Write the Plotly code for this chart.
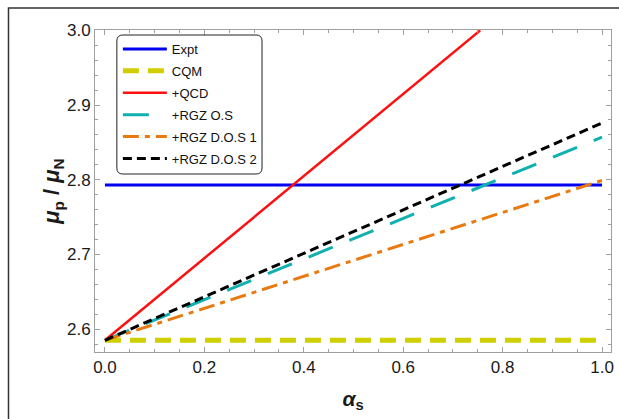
import plotly.graph_objects as go

# Data
alpha_s = [0.0, 1.0]
expt = [2.793, 2.793]
cqm = [2.585, 2.585]
qcd_x = [0.0, 0.755]
qcd = [2.585, 3.0]
rgz_os = [2.585, 2.857]
rgz_dos1 = [2.585, 2.799]
rgz_dos2 = [2.585, 2.876]

W, H = 619, 419
L, R, T, B = 95, 5, 30, 67
pw, ph = W - L - R, H - T - B

def px(x):
    return (x - L) / pw

def py(y):
    return (H - B - y) / ph

fig = go.Figure()
fig.add_trace(go.Scatter(x=alpha_s, y=expt, mode="lines", name="Expt",
                         line=dict(color="#0000f0", width=3), legendgroup="a"))
fig.add_trace(go.Scatter(x=alpha_s, y=cqm, mode="lines", name="CQM",
                         line=dict(color="#cfcf00", width=5, dash="16px,9px"), legendgroup="b"))
fig.add_trace(go.Scatter(x=qcd_x, y=qcd, mode="lines", name="+QCD",
                         line=dict(color="#ff1010", width=2.5), legendgroup="c"))
fig.add_trace(go.Scatter(x=alpha_s, y=rgz_os, mode="lines", name="+RGZ O.S",
                         line=dict(color="#10b0b0", width=3, dash="26px,18px"), legendgroup="d"))
fig.add_trace(go.Scatter(x=alpha_s, y=rgz_dos1, mode="lines", name="+RGZ D.O.S 1",
                         line=dict(color="#e87a10", width=3, dash="16px,6px,5px,6px"), legendgroup="e"))
fig.add_trace(go.Scatter(x=alpha_s, y=rgz_dos2, mode="lines", name="+RGZ D.O.S 2",
                         line=dict(color="#000000", width=3, dash="9px,5px"), legendgroup="f"))

axis_common = dict(
    showgrid=False, zeroline=False, showline=True, linecolor="#a0a0a0", linewidth=1,
    mirror="allticks", ticks="inside", ticklen=5, tickcolor="#a0a0a0", tickwidth=1,
    tickfont=dict(family="Liberation Sans, Arial", size=17, color="#1a1a1a"),
)

fig.update_xaxes(range=[-0.02, 1.018], tickvals=[0, 0.2, 0.4, 0.6, 0.8, 1.0],
                 ticktext=["0.0", "0.2", "0.4", "0.6", "0.8", "1.0"],
                 minor=dict(dtick=0.05, ticks="inside", ticklen=3, tickcolor="#a0a0a0"),
                 title=dict(text="<b><i>α</i><sub>s</sub></b>", standoff=14,
                            font=dict(family="Liberation Sans, Arial", size=21, color="#1a1a1a")),
                 **axis_common)
fig.update_yaxes(range=[2.5693, 3.0005], tickvals=[2.6, 2.7, 2.8, 2.9, 3.0],
                 ticktext=["2.6", "2.7", "2.8", "2.9", "3.0"],
                 minor=dict(dtick=0.02, ticks="inside", ticklen=3, tickcolor="#a0a0a0"),
                 title=dict(text="<b><i>μ</i><sub>p</sub> / <i>μ</i><sub>N</sub></b>", standoff=0,
                            font=dict(family="Liberation Sans, Arial", size=22, color="#1a1a1a")),
                 **axis_common)

# rounded legend box
x0, x1 = px(117), px(263)
y1, y0 = py(35), py(174)
rx, ry = 6 / pw, 6 / ph
path = (f"M {x0+rx},{y1} L {x1-rx},{y1} Q {x1},{y1} {x1},{y1-ry} "
        f"L {x1},{y0+ry} Q {x1},{y0} {x1-rx},{y0} L {x0+rx},{y0} "
        f"Q {x0},{y0} {x0},{y0+ry} L {x0},{y1-ry} Q {x0},{y1} {x0+rx},{y1} Z")
fig.add_shape(type="path", path=path, xref="paper", yref="paper",
              line=dict(color="#222222", width=1), fillcolor="white", layer="above")
# outer frame
fig.add_shape(type="rect", xref="paper", yref="paper",
              x0=px(8), y0=py(430), x1=px(640), y1=py(8),
              line=dict(color="#333333", width=1.5), fillcolor="rgba(0,0,0,0)", layer="above")

fig.update_layout(
    width=W, height=H, margin=dict(l=L, r=R, t=T, b=B),
    paper_bgcolor="white", plot_bgcolor="white",
    showlegend=True,
    legend=dict(x=px(118), y=py(34), xanchor="left", yanchor="top",
                bgcolor="rgba(0,0,0,0)", borderwidth=0, tracegroupgap=2, itemwidth=44,
                font=dict(family="Liberation Sans, Arial", size=13, color="#111111")),
)

fig.write_html("out.html")
